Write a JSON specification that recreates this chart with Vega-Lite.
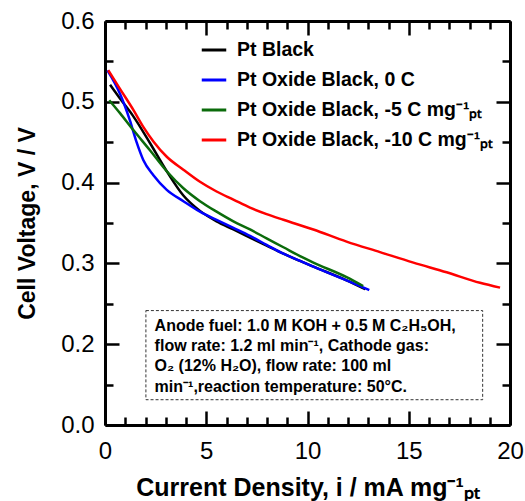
{
  "$schema": "https://vega.github.io/schema/vega-lite/v6.json",
  "autosize": "none",
  "width": 405,
  "height": 404,
  "padding": {"left": 105, "top": 21, "right": 15, "bottom": 76},
  "background": "white",
  "config": {
    "view": {"stroke": null},
    "font": "Liberation Sans",
    "axis": {
      "labelFont": "Liberation Sans",
      "labelFontSize": 24,
      "labelColor": "black",
      "titleFont": "Liberation Sans",
      "titleFontWeight": "bold",
      "titleColor": "black",
      "domainColor": "black",
      "domainWidth": 3,
      "tickColor": "black",
      "tickWidth": 2.5,
      "grid": false
    }
  },
  "datasets": {
    "box": [{"x1": 2.02, "x2": 18.65, "y1": 0.2416, "y2": 0.1313}],
    "notes": [
      {"x": 2.45, "y": 0.2224, "t": "Anode fuel: 1.0 M KOH + 0.5 M C₂H₅OH,"},
      {"x": 2.45, "y": 0.1974, "t": "flow rate: 1.2 ml min⁻¹, Cathode gas:"},
      {"x": 2.45, "y": 0.1726, "t": "O₂ (12% H₂O), flow rate: 100  ml"},
      {"x": 2.45, "y": 0.1474, "t": "min⁻¹,reaction temperature: 50°C."}
    ],
    "curves": [
      {"s": "Pt Black", "x": 0.25, "y": 0.521},
      {"s": "Pt Black", "x": 0.74, "y": 0.504},
      {"s": "Pt Black", "x": 1.40, "y": 0.482},
      {"s": "Pt Black", "x": 2.22, "y": 0.449},
      {"s": "Pt Black", "x": 3.05, "y": 0.414},
      {"s": "Pt Black", "x": 3.87, "y": 0.384},
      {"s": "Pt Black", "x": 4.69, "y": 0.365},
      {"s": "Pt Black", "x": 5.51, "y": 0.352},
      {"s": "Pt Black", "x": 6.34, "y": 0.342},
      {"s": "Pt Black", "x": 7.16, "y": 0.332},
      {"s": "Pt Black", "x": 7.98, "y": 0.322},
      {"s": "Pt Black", "x": 8.81, "y": 0.312},
      {"s": "Pt Black", "x": 9.63, "y": 0.303},
      {"s": "Pt Black", "x": 10.29, "y": 0.296},
      {"s": "Pt Black", "x": 11.93, "y": 0.279},
      {"s": "Pt Black", "x": 12.85, "y": 0.268},

      {"s": "Pt Oxide Black, 0 C", "x": 0.12, "y": 0.539},
      {"s": "Pt Oxide Black, 0 C", "x": 0.74, "y": 0.510},
      {"s": "Pt Oxide Black, 0 C", "x": 1.23, "y": 0.477},
      {"s": "Pt Oxide Black, 0 C", "x": 1.56, "y": 0.450},
      {"s": "Pt Oxide Black, 0 C", "x": 1.89, "y": 0.428},
      {"s": "Pt Oxide Black, 0 C", "x": 2.39, "y": 0.409},
      {"s": "Pt Oxide Black, 0 C", "x": 3.05, "y": 0.391},
      {"s": "Pt Oxide Black, 0 C", "x": 3.87, "y": 0.377},
      {"s": "Pt Oxide Black, 0 C", "x": 4.69, "y": 0.364},
      {"s": "Pt Oxide Black, 0 C", "x": 5.51, "y": 0.354},
      {"s": "Pt Oxide Black, 0 C", "x": 6.34, "y": 0.344},
      {"s": "Pt Oxide Black, 0 C", "x": 7.16, "y": 0.334},
      {"s": "Pt Oxide Black, 0 C", "x": 7.98, "y": 0.323},
      {"s": "Pt Oxide Black, 0 C", "x": 8.81, "y": 0.312},
      {"s": "Pt Oxide Black, 0 C", "x": 9.63, "y": 0.303},
      {"s": "Pt Oxide Black, 0 C", "x": 10.29, "y": 0.296},
      {"s": "Pt Oxide Black, 0 C", "x": 11.93, "y": 0.279},
      {"s": "Pt Oxide Black, 0 C", "x": 13.05, "y": 0.267},

      {"s": "Pt Oxide Black, -5 C mg⁻¹ₚₜ", "x": 0.21, "y": 0.502},
      {"s": "Pt Oxide Black, -5 C mg⁻¹ₚₜ", "x": 0.74, "y": 0.486},
      {"s": "Pt Oxide Black, -5 C mg⁻¹ₚₜ", "x": 1.40, "y": 0.465},
      {"s": "Pt Oxide Black, -5 C mg⁻¹ₚₜ", "x": 2.22, "y": 0.440},
      {"s": "Pt Oxide Black, -5 C mg⁻¹ₚₜ", "x": 3.05, "y": 0.414},
      {"s": "Pt Oxide Black, -5 C mg⁻¹ₚₜ", "x": 3.87, "y": 0.393},
      {"s": "Pt Oxide Black, -5 C mg⁻¹ₚₜ", "x": 4.69, "y": 0.377},
      {"s": "Pt Oxide Black, -5 C mg⁻¹ₚₜ", "x": 5.51, "y": 0.364},
      {"s": "Pt Oxide Black, -5 C mg⁻¹ₚₜ", "x": 6.34, "y": 0.352},
      {"s": "Pt Oxide Black, -5 C mg⁻¹ₚₜ", "x": 7.16, "y": 0.342},
      {"s": "Pt Oxide Black, -5 C mg⁻¹ₚₜ", "x": 7.98, "y": 0.331},
      {"s": "Pt Oxide Black, -5 C mg⁻¹ₚₜ", "x": 8.81, "y": 0.320},
      {"s": "Pt Oxide Black, -5 C mg⁻¹ₚₜ", "x": 9.63, "y": 0.309},
      {"s": "Pt Oxide Black, -5 C mg⁻¹ₚₜ", "x": 10.29, "y": 0.301},
      {"s": "Pt Oxide Black, -5 C mg⁻¹ₚₜ", "x": 11.93, "y": 0.283},
      {"s": "Pt Oxide Black, -5 C mg⁻¹ₚₜ", "x": 12.75, "y": 0.272},

      {"s": "Pt Oxide Black, -10 C mg⁻¹ₚₜ", "x": 0.16, "y": 0.539},
      {"s": "Pt Oxide Black, -10 C mg⁻¹ₚₜ", "x": 0.74, "y": 0.516},
      {"s": "Pt Oxide Black, -10 C mg⁻¹ₚₜ", "x": 1.40, "y": 0.490},
      {"s": "Pt Oxide Black, -10 C mg⁻¹ₚₜ", "x": 1.89, "y": 0.469},
      {"s": "Pt Oxide Black, -10 C mg⁻¹ₚₜ", "x": 2.39, "y": 0.451},
      {"s": "Pt Oxide Black, -10 C mg⁻¹ₚₜ", "x": 3.05, "y": 0.432},
      {"s": "Pt Oxide Black, -10 C mg⁻¹ₚₜ", "x": 3.87, "y": 0.416},
      {"s": "Pt Oxide Black, -10 C mg⁻¹ₚₜ", "x": 4.69, "y": 0.401},
      {"s": "Pt Oxide Black, -10 C mg⁻¹ₚₜ", "x": 5.51, "y": 0.389},
      {"s": "Pt Oxide Black, -10 C mg⁻¹ₚₜ", "x": 6.34, "y": 0.379},
      {"s": "Pt Oxide Black, -10 C mg⁻¹ₚₜ", "x": 7.16, "y": 0.369},
      {"s": "Pt Oxide Black, -10 C mg⁻¹ₚₜ", "x": 7.98, "y": 0.361},
      {"s": "Pt Oxide Black, -10 C mg⁻¹ₚₜ", "x": 8.81, "y": 0.354},
      {"s": "Pt Oxide Black, -10 C mg⁻¹ₚₜ", "x": 10.29, "y": 0.342},
      {"s": "Pt Oxide Black, -10 C mg⁻¹ₚₜ", "x": 11.93, "y": 0.327},
      {"s": "Pt Oxide Black, -10 C mg⁻¹ₚₜ", "x": 13.58, "y": 0.314},
      {"s": "Pt Oxide Black, -10 C mg⁻¹ₚₜ", "x": 15.23, "y": 0.301},
      {"s": "Pt Oxide Black, -10 C mg⁻¹ₚₜ", "x": 16.87, "y": 0.289},
      {"s": "Pt Oxide Black, -10 C mg⁻¹ₚₜ", "x": 18.52, "y": 0.276},
      {"s": "Pt Oxide Black, -10 C mg⁻¹ₚₜ", "x": 19.51, "y": 0.270}
    ]
  },
  "layer": [
    {
      "data": {"name": "box"},
      "mark": {"type": "rect", "fill": "white", "stroke": "#333333", "strokeWidth": 1, "strokeDash": [3, 2]},
      "encoding": {
        "x": {"field": "x1", "type": "quantitative", "scale": {"domain": [0, 20], "nice": false, "zero": false},
          "axis": {"orient": "bottom", "title": "Current Density, i / mA mg⁻¹ₚₜ", "titleFontSize": 25,
            "values": [0,1,2,3,4,5,6,7,8,9,10,11,12,13,14,15,16,17,18,19,20],
            "tickSize": {"condition": {"test": "datum.value % 5 === 0", "value": -14}, "value": -8},
            "labelExpr": "datum.value % 5 === 0 ? datum.label : ''",
            "labelPadding": 28, "titlePadding": 6, "labelFlush": false, "labelOverlap": false}},
        "x2": {"field": "x2"},
        "y": {"field": "y1", "type": "quantitative", "scale": {"domain": [0.1, 0.6], "nice": false, "zero": false},
          "axis": {"orient": "left", "title": "Cell Voltage, V / V", "titleFontSize": 23,
            "values": [0.1,0.15,0.2,0.25,0.3,0.35,0.4,0.45,0.5,0.55,0.6],
            "tickSize": {"condition": {"test": "abs(datum.value*10 - round(datum.value*10)) < 0.01", "value": -14}, "value": -8},
            "labelExpr": "datum.value < 0.12 ? '0.0' : (abs(datum.value*10 - round(datum.value*10)) < 0.01 ? format(datum.value, '.1f') : '')",
            "labelPadding": 25, "titlePadding": 21, "labelFlush": false, "labelOverlap": false}},
        "y2": {"field": "y2"}
      }
    },
    {
      "data": {"name": "notes"},
      "mark": {"type": "text", "align": "left", "baseline": "middle", "font": "Liberation Sans", "fontWeight": "bold", "fontSize": 16, "color": "black"},
      "encoding": {
        "x": {"field": "x", "type": "quantitative", "axis": null},
        "y": {"field": "y", "type": "quantitative", "axis": null},
        "text": {"field": "t"}
      }
    },
    {
      "data": {"name": "curves"},
      "mark": {"type": "line", "strokeWidth": 2.5, "interpolate": "monotone"},
      "encoding": {
        "x": {"field": "x", "type": "quantitative",
          "axis": {"orient": "top", "title": null, "labels": false,
            "values": [0,1,2,3,4,5,6,7,8,9,10,11,12,13,14,15,16,17,18,19,20],
            "tickSize": {"condition": {"test": "datum.value % 5 === 0", "value": -14}, "value": -8}}},
        "y": {"field": "y", "type": "quantitative",
          "axis": {"orient": "right", "title": null, "labels": false,
            "values": [0.1,0.15,0.2,0.25,0.3,0.35,0.4,0.45,0.5,0.55,0.6],
            "tickSize": {"condition": {"test": "abs(datum.value*10 - round(datum.value*10)) < 0.01", "value": -14}, "value": -8}}},
        "color": {"field": "s", "type": "nominal",
          "scale": {"domain": ["Pt Black", "Pt Oxide Black, 0 C", "Pt Oxide Black, -5 C mg⁻¹ₚₜ", "Pt Oxide Black, -10 C mg⁻¹ₚₜ"],
            "range": ["#000000", "#0000ff", "#0b6b0b", "#ff0000"]},
          "legend": {"orient": "none", "legendX": 95, "legendY": 15, "title": null, "padding": 0,
            "symbolType": "stroke", "symbolStrokeWidth": 3, "symbolSize": 600, "rowPadding": 6,
            "labelFont": "Liberation Sans", "labelFontWeight": "bold", "labelFontSize": 19.5, "labelColor": "black",
            "labelOffset": 9, "labelLimit": 400}}
      }
    }
  ],
  "resolve": {"axis": {"x": "independent", "y": "independent"}}
}
